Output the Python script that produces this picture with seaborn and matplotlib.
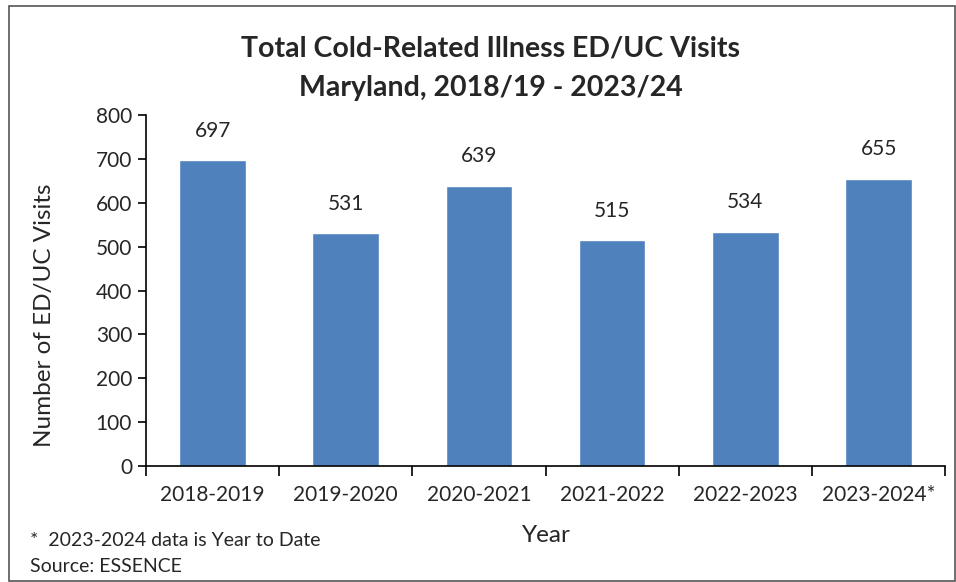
import matplotlib
matplotlib.use('Agg')
import matplotlib.pyplot as plt
import seaborn as sns
import pandas as pd
import numpy as np

# data
seasons = ['2018-2019', '2019-2020', '2020-2021', '2021-2022', '2022-2023', '2023-2024*']
visits = [697, 531, 639, 515, 534, 655]

df = pd.DataFrame({'Season': seasons, 'Visits': visits})

sns.set_style('white')
plt.rcParams['font.family'] = ['Lato', 'DejaVu Sans']

fig = plt.figure(figsize=(9.56, 5.82), dpi=100)
ax = fig.add_axes([0.1527, 0.1993, 0.836, 0.6031])

sns.barplot(data=df, x='Season', y='Visits', color='#4F81BD', width=0.5,
            saturation=1, ax=ax)

for i, v in enumerate(visits):
    ax.annotate(str(v), (i, v), xytext=(0, 14), textcoords='offset points',
                ha='center', va='bottom', fontsize=15)

ax.set_ylim(0, 800)
ax.set_yticks(range(0, 801, 100))
ax.set_xlim(-0.5, len(seasons) - 0.5)
ax.tick_params(axis='y', labelsize=15, direction='out', length=6, width=1.2,
               left=True, color='black', pad=4)
ax.tick_params(axis='x', which='major', labelsize=15, length=0, pad=14)
ax.set_xticks(np.arange(-0.5, len(seasons)), minor=True)
ax.tick_params(axis='x', which='minor', direction='out', length=7, width=1.2,
               bottom=True, color='black')

for s in ['top', 'right']:
    ax.spines[s].set_visible(False)
for s in ['left', 'bottom']:
    ax.spines[s].set_color('black')
    ax.spines[s].set_linewidth(1.2)

ax.set_ylabel('')
ax.set_xlabel('')
fig.text(45 / 956, 1 - 315 / 582, 'Number of ED/UC Visits', rotation=90,
         ha='center', va='center', fontsize=17.5)
fig.text(546 / 956, 1 - 536 / 582, 'Year', ha='center', va='center', fontsize=17.5)

fig.text(491 / 956, 1 - 48 / 582, 'Total Cold-Related Illness ED/UC Visits',
         ha='center', va='center', fontsize=20.5, fontweight='bold')
fig.text(491 / 956, 1 - 88 / 582, 'Maryland, 2018/19 - 2023/24',
         ha='center', va='center', fontsize=20.5, fontweight='bold')

fig.text(30 / 956, 1 - 541 / 582, '*  2023-2024 data is Year to Date',
         ha='left', va='center', fontsize=14)
fig.text(30 / 956, 1 - 566 / 582, 'Source: ESSENCE',
         ha='left', va='center', fontsize=14)

border = plt.Rectangle((9 / 956, 1 / 582), 1 - 10 / 956, 1 - 7 / 582,
                       transform=fig.transFigure, fill=False,
                       edgecolor='#555555', linewidth=1.2)
fig.patches.append(border)

fig.savefig('out.png', dpi=100)
